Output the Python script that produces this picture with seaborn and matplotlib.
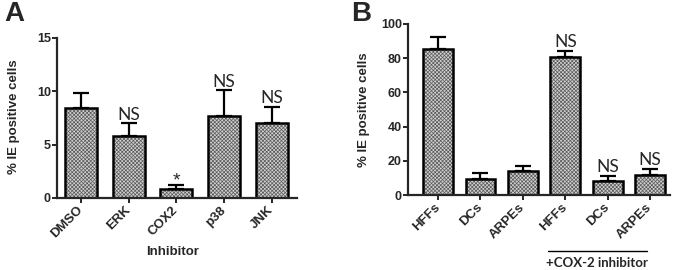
import matplotlib
matplotlib.use("Agg")
import matplotlib.pyplot as plt
import seaborn as sns
import pandas as pd
import numpy as np

# Panel A data
a_cats = ["DMSO", "ERK", "COX2", "p38", "JNK"]
a_vals = [8.45, 5.8, 0.8, 7.7, 7.0]
a_errs = [1.4, 1.2, 0.42, 2.4, 1.55]
a_marks = ["", "NS", "*", "NS", "NS"]

# Panel B data
b_cats = ["HFFs", "DCs", "ARPEs", "HFFs ", "DCs ", "ARPEs "]
b_labels = ["HFFs", "DCs", "ARPEs", "HFFs", "DCs", "ARPEs"]
b_vals = [85.2, 9.2, 14.2, 80.9, 8.2, 11.5]
b_errs = [7.4, 3.5, 2.9, 3.3, 2.9, 3.7]
b_marks = ["", "", "", "NS", "NS", "NS"]

sns.set_style("ticks")
plt.rcParams["font.family"] = ["Liberation Sans", "DejaVu Sans"]
plt.rcParams["hatch.linewidth"] = 0.5
plt.rcParams["axes.linewidth"] = 1.6

fig = plt.figure(figsize=(6.75, 2.7), dpi=100)
axA = fig.add_axes([57/675, 1-198/270, (297-57)/675, 160/270])
axB = fig.add_axes([408/675, 1-195/270, (670-408)/675, 171/270])

def draw(ax, cats, vals, errs, marks, width, ylim, yticks, xlim, ticklabels):
    df = pd.DataFrame({"cat": cats, "val": vals})
    # textured fill
    sns.barplot(data=df, x="cat", y="val", ax=ax, color="#d0d0d0",
                errorbar=None, width=width, edgecolor="#5a5a5a", linewidth=0,
                hatch="xxxxxxxxx")
    # black outline
    sns.barplot(data=df, x="cat", y="val", ax=ax, color="black", fill=False,
                errorbar=None, width=width, linewidth=1.8)
    for p in ax.patches:
        p.set_zorder(2)
    x = np.arange(len(cats))
    ax.errorbar(x, vals, yerr=[np.zeros(len(vals)), errs], fmt="none",
                ecolor="black", elinewidth=1.6, capsize=6, capthick=1.6, zorder=1)
    for xi, v, e, m in zip(x, vals, errs, marks):
        if m == "NS":
            ax.annotate(m, (xi, v + e), xytext=(0, 0.5), textcoords="offset points",
                        ha="center", va="bottom", fontsize=12.5,
                        family=["Lato", "DejaVu Sans"])
        elif m:
            ax.annotate(m, (xi, v + e), xytext=(0, -3.5), textcoords="offset points",
                        ha="center", va="bottom", fontsize=14,
                        family=["Liberation Sans", "DejaVu Sans"])
    ax.set_ylim(*ylim)
    ax.set_yticks(yticks)
    ax.set_xlim(*xlim)
    ax.set_xticks(x)
    ax.set_xticklabels(ticklabels, rotation=45, ha="right", va="center",
                       rotation_mode="anchor", fontweight="bold", fontsize=9.5)
    for lab in ax.get_yticklabels():
        lab.set_fontweight("bold")
        lab.set_fontsize(9)
    ax.tick_params(axis="y", direction="out", length=3.5, width=1.4, pad=1)
    ax.tick_params(axis="x", direction="out", length=3.5, width=1.4, pad=4)
    ax.set_ylabel("% IE positive cells", fontweight="bold", fontsize=9.5)
    sns.despine(ax=ax)

draw(axA, a_cats, a_vals, a_errs, a_marks, 0.67, (0, 15), [0, 5, 10, 15],
     (-0.5, 4.53), a_cats)
axA.set_xlabel("Inhibitor", fontweight="bold", fontsize=9.5, labelpad=0)
axA.xaxis.set_label_coords(0.48, -0.30)
axA.yaxis.set_label_coords(-0.155, 0.51)

draw(axB, b_cats, b_vals, b_errs, b_marks, 0.7, (0, 100), [0, 20, 40, 60, 80, 100],
     (-0.71, 5.47), b_labels)
axB.set_xlabel("")
axB.yaxis.set_label_coords(-0.145, 0.5)

# group line and label for COX-2 inhibitor
fig.add_artist(plt.Line2D([548/675, 647/675], [1-250.5/270, 1-250.5/270],
                          color="black", linewidth=1.0))
fig.text(597/675, 1-263/270, "+COX-2 inhibitor", ha="center", va="center",
         fontsize=9.5, fontweight="bold", family=["Lato", "DejaVu Sans"])

fig.text(0.006, 0.995, "A", ha="left", va="top", fontsize=20, fontweight="bold")
fig.text(351/675, 0.995, "B", ha="left", va="top", fontsize=20, fontweight="bold")

fig.savefig("out.png", dpi=100)
